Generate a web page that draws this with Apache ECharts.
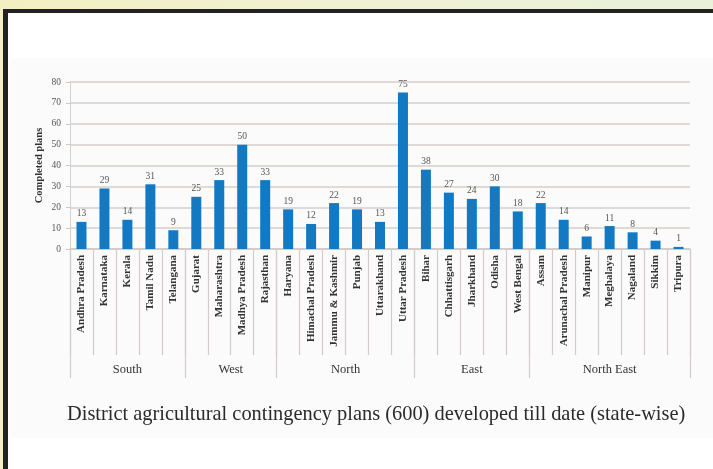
<!DOCTYPE html>
<html>
<head>
<meta charset="utf-8">
<script src="https://cdn.jsdelivr.net/npm/echarts@6/dist/echarts.min.js"></script>
<style>
  html, body { margin:0; padding:0; width:713px; height:469px; overflow:hidden;
    background: linear-gradient(90deg, #f4efc2 0%, #eef1d6 60%, #e9f1d8 100%); }
  #frame { position:absolute; left:3px; top:9px; width:740px; height:480px;
    border-left:5px solid #222; border-top:4px solid #222; background:#ffffff; }
  #panel { position:absolute; left:10px; top:58px; width:703px; height:380px; background:#fbfbfb; }
  #chart { position:absolute; left:0; top:0; width:713px; height:469px; }
</style>
</head>
<body>
<div id="frame"></div>
<div id="panel"></div>
<div id="chart"></div>
<script>
const states = ["Andhra Pradesh","Karnataka","Kerala","Tamil Nadu","Telangana",
  "Gujarat","Maharashtra","Madhya Pradesh","Rajasthan",
  "Haryana","Himachal Pradesh","Jammu & Kashmir","Punjab","Uttarakhand","Uttar Pradesh",
  "Bihar","Chhattisgarh","Jharkhand","Odisha","West Bengal",
  "Assam","Arunachal Pradesh","Manipur","Meghalaya","Nagaland","Sikkim","Tripura"];
const plans = [13,29,14,31,9, 25,33,50,33, 19,12,22,19,13,75, 38,27,24,30,18, 22,14,6,11,8,4,1];
const regions = ["South","West","North","East","North East"];
const regionCounts = [5,4,6,5,7];
const yTicks = [0,10,20,30,40,50,60,70,80];
const title = "District agricultural contingency plans (600) developed till date (state-wise)";

// region boundaries and centres on the category scale
const bounds = [0];
regionCounts.forEach(c => bounds.push(bounds[bounds.length-1] + c));
const centres = regions.map((r,i) => (bounds[i] + bounds[i+1]) / 2);
const centreName = {};
centres.forEach((c,i) => { centreName[c] = regions[i]; });

const serif = '"Liberation Serif", "DejaVu Serif", serif';
const grid = { left:70, right:23, top:82, bottom:220 };

const chart = echarts.init(document.getElementById('chart'), null, {renderer:'canvas'});
chart.setOption({
  backgroundColor: 'transparent',
  animation: false,
  title: {
    text: title, left: 62, top: 400,
    textStyle: { fontFamily: serif, fontSize: 20.4, fontWeight: 'normal', color: '#2b2b2b' }
  },
  grid: grid,
  xAxis: [{
    type: 'category', data: states, position: 'bottom',
    axisLine: { show: true, lineStyle: { color: '#cfc8c4', width: 1.5 } },
    axisTick: { show: true, interval: 0, length: 106, lineStyle: { color: '#d3ccc8', width: 1.2 } },
    axisLabel: { interval: 0, rotate: 90, margin: 6, fontFamily: serif, fontSize: 11,
      fontWeight: 'bold', color: '#333' },
    splitLine: { show: false }
  }, {
    type: 'value', min: 0, max: states.length, position: 'bottom',
    axisLine: { show: false },
    axisTick: { show: true, customValues: bounds, length: 129, lineStyle: { color: '#d3ccc8', width: 1.2 } },
    axisLabel: { customValues: centres, margin: 114, fontFamily: serif, fontSize: 12.5, color: '#333',
      formatter: v => centreName[v] || '' },
    splitLine: { show: false }
  }],
  yAxis: {
    type: 'value', min: yTicks[0], max: yTicks[yTicks.length-1], interval: 10,
    name: 'Completed plans', nameLocation: 'middle', nameGap: 25, nameMoveOverlap: false,
    nameTextStyle: { fontFamily: serif, fontSize: 10.5, fontWeight: 'bold', color: '#333' },
    axisLine: { show: true, lineStyle: { color: '#d6d0cc', width: 1 } },
    axisTick: { show: true, length: 4, lineStyle: { color: '#cfc8c4' } },
    axisLabel: { margin: 9, fontFamily: serif, fontSize: 9.5, color: '#555' },
    splitLine: { show: true, lineStyle: { color: '#d6cfcb', width: 1.6 } }
  },
  series: [{
    type: 'bar', data: plans, xAxisIndex: 0, barWidth: 10,
    itemStyle: { color: '#1479c3' },
    label: { show: true, position: 'top', distance: 3, fontFamily: serif, fontSize: 9.5, color: '#555' }
  }]
});
</script>
</body>
</html>
